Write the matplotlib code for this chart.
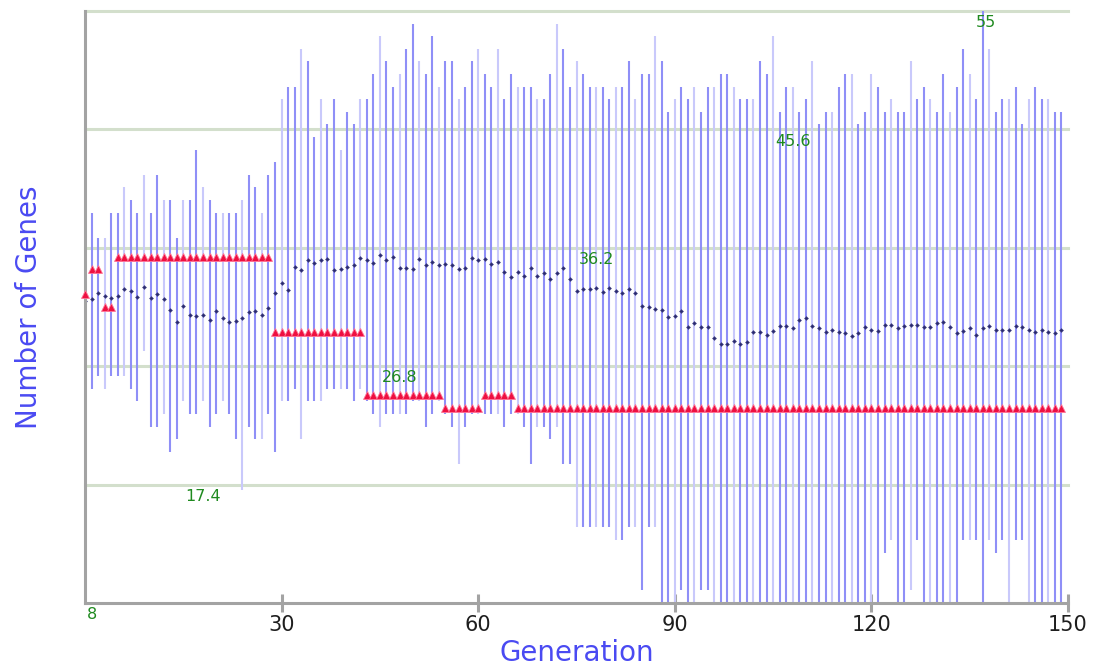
import numpy as np
import matplotlib
matplotlib.use("Agg")
import matplotlib.pyplot as plt

generations = list(range(0, 150))

max_genes = [38, 39, 37, 37, 39, 39, 41, 40, 39, 42,
             39, 42, 40, 40, 37, 40, 40, 44, 41, 40,
             39, 39, 39, 39, 40, 42, 41, 39, 42, 43,
             48, 49, 49, 52, 51, 45, 48, 46, 48, 44,
             47, 46, 48, 48, 50, 53, 51, 49, 50, 52,
             54, 51, 50, 53, 49, 51, 51, 48, 49, 51,
             52, 50, 49, 52, 48, 50, 49, 49, 49, 48,
             48, 50, 54, 52, 49, 51, 50, 49, 49, 49,
             48, 49, 49, 51, 48, 50, 50, 53, 51, 47,
             48, 49, 48, 49, 47, 49, 49, 50, 50, 49,
             48, 48, 48, 51, 50, 53, 47, 49, 49, 47,
             48, 51, 46, 47, 47, 49, 50, 50, 46, 47,
             50, 49, 47, 48, 47, 47, 51, 48, 49, 48,
             47, 50, 47, 49, 52, 50, 48, 55, 52, 47,
             48, 48, 49, 46, 48, 49, 48, 48, 47, 47]

min_genes = [26, 25, 26, 25, 26, 26, 26, 25, 24, 28,
             22, 22, 23, 20, 21, 24, 23, 23, 24, 22,
             23, 24, 23, 21, 17, 22, 21, 21, 23, 20,
             24, 24, 25, 21, 24, 24, 24, 25, 25, 25,
             25, 24, 25, 24, 23, 22, 23, 23, 23, 23,
             24, 24, 22, 23, 24, 23, 22, 19, 22, 23,
             23, 23, 23, 23, 22, 23, 23, 22, 19, 22,
             22, 21, 22, 19, 19, 14, 14, 14, 14, 14,
             14, 13, 13, 14, 14, 9, 14, 14, 8, 8,
             8, 9, 8, 8, 9, 9, 8, 8, 8, 8,
             8, 8, 8, 8, 8, 8, 8, 8, 8, 8,
             8, 8, 8, 8, 8, 8, 8, 8, 8, 8,
             8, 8, 12, 13, 8, 8, 9, 13, 8, 8,
             8, 8, 8, 8, 13, 13, 13, 8, 13, 12,
             13, 8, 13, 13, 8, 8, 8, 8, 8, 8]

mean_genes = [32.0, 32.1, 32.6, 32.4, 32.2, 32.4, 32.9, 32.8, 32.3, 33.1,
              32.2, 32.5, 32.1, 31.3, 30.3, 31.6, 30.9, 30.8, 30.9, 30.5,
              31.2, 30.6, 30.3, 30.4, 30.6, 31.1, 31.2, 30.9, 31.4, 32.6,
              33.4, 32.85, 34.65, 34.4, 35.2, 35.0, 35.2, 35.3, 34.4, 34.5,
              34.65, 34.8, 35.4, 35.2, 35.0, 35.6, 35.2, 35.5, 34.6, 34.6,
              34.5, 35.3, 34.8, 35.1, 34.85, 34.9, 34.85, 34.5, 34.6, 35.4,
              35.2, 35.35, 34.9, 35.1, 34.3, 33.9, 34.3, 34.0, 34.6, 34.0,
              34.2, 33.7, 34.2, 34.6, 33.7, 32.8, 32.9, 32.9, 33.0, 32.7,
              33.0, 32.8, 32.6, 32.9, 32.6, 31.6, 31.5, 31.35, 31.3, 30.7,
              30.8, 31.2, 29.9, 30.2, 29.9, 29.95, 29.0, 28.55, 28.55, 28.8,
              28.55, 28.7, 29.5, 29.5, 29.3, 29.6, 30.0, 30.0, 29.8, 30.5,
              30.6, 30.0, 29.8, 29.5, 29.7, 29.5, 29.45, 29.2, 29.4, 29.9,
              29.7, 29.6, 30.1, 30.1, 29.8, 30.0, 30.1, 30.1, 29.9, 29.9,
              30.2, 30.3, 29.9, 29.4, 29.6, 29.8, 29.3, 29.8, 30.0, 29.7,
              29.7, 29.7, 30.0, 29.9, 29.7, 29.5, 29.7, 29.5, 29.4, 29.7]

best_genes = ([32.5] + [34.5] * 2 + [31.5] * 2 + [35.45] * 24 + [29.5] * 14 +
              [24.5] * 12 + [23.5] * 6 + [24.5] * 5 + [23.5] * 84)

grid_values = [17.4, 26.8, 36.2, 45.6, 55]
grid_label_x = [18, 48, 78, 108, 137.5]
x_ticks = [30, 60, 90, 120, 150]
y_min_label = "8"

fig = plt.figure(figsize=(11.01, 6.68), dpi=100)
ax = fig.add_axes([85 / 1101, 1 - 603 / 668, (1068 - 85) / 1101, (603 - 11) / 668])
ax.set_xlim(0, 150)
ax.set_ylim(8, 55)

# grid lines
for gv in grid_values:
    ax.axhline(gv, color="#d3dfcc", lw=2.2, zorder=1, clip_on=False)

# range bars
bar_colors = ["#c9c9fb" if g % 3 == 0 else "#8f8ff7" for g in generations]
ax.vlines(generations, min_genes, max_genes, colors=bar_colors, lw=1.5, zorder=2)

# mean points
ax.plot(generations, mean_genes, ls="none", marker="D", ms=2.0,
        mfc="#2a2a70", mec="#4a4a8a", mew=0.4, zorder=4)

# best points
ax.plot(generations, best_genes, ls="none", marker="^", ms=6.0,
        mfc="#ee1040", mec="#ff7799", mew=0.6, zorder=8, clip_on=False)

# value labels
for gx, gv in zip(grid_label_x, grid_values):
    ax.annotate(f"{gv:g}", (gx, gv), xytext=(0, -3), textcoords="offset points",
                ha="center", va="top", color="#1f8a1f", fontsize=11.5, zorder=6)
ax.annotate(y_min_label, (0, 8), xytext=(1, -3), textcoords="offset points",
            ha="left", va="top", color="#1f8a1f", fontsize=11.5, annotation_clip=False)

# spines and ticks
for s in ["top", "right"]:
    ax.spines[s].set_visible(False)
for s in ["left", "bottom"]:
    ax.spines[s].set_color("#a3a3a3")
    ax.spines[s].set_linewidth(2.2)
    ax.spines[s].set_zorder(7)
ax.set_yticks([])
ax.set_xticks(x_ticks)
ax.set_xticklabels([str(t) for t in x_ticks], fontsize=15, color="#1e1e1e")
ax.tick_params(axis="x", direction="inout", length=13, width=2.2, color="#a3a3a3", pad=2)

ax.set_xlabel("Generation", fontsize=20, color="#4a4af2", labelpad=3)
ax.set_ylabel("Number of Genes", fontsize=20, color="#4a4af2", labelpad=30)

fig.savefig("out.png", dpi=100)
